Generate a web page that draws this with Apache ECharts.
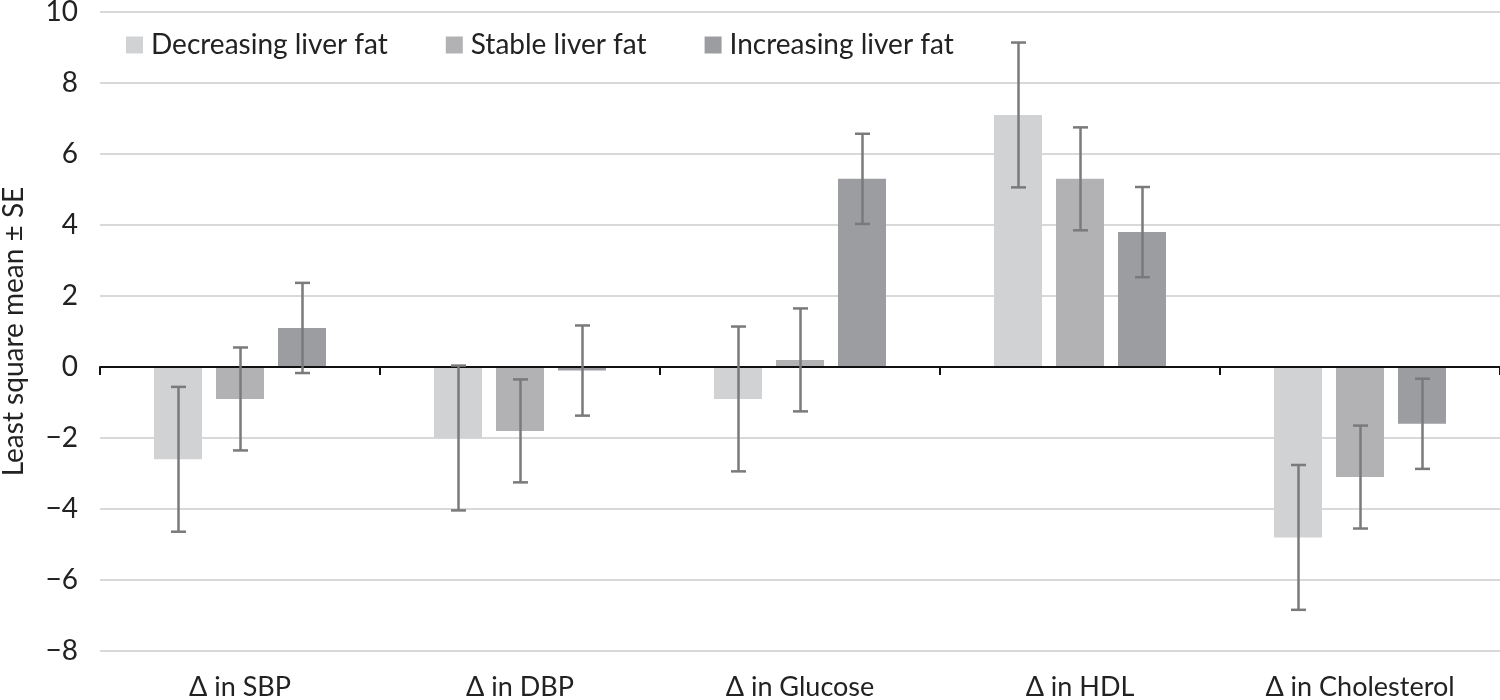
<!DOCTYPE html>
<html>
<head>
<meta charset="utf-8">
<script src="https://cdn.jsdelivr.net/npm/echarts@6/dist/echarts.min.js"></script>
<style>
html,body{margin:0;padding:0;background:#fff;}
#chart{width:1500px;height:700px;}
</style>
</head>
<body>
<div id="chart"></div>
<script>
const categories = ['\u0394 in SBP', '\u0394 in DBP', '\u0394 in Glucose', '\u0394 in HDL', '\u0394 in Cholesterol'];
const seriesNames = ['Decreasing liver fat', 'Stable liver fat', 'Increasing liver fat'];
const decreasing = [-2.6, -2.0, -0.9, 7.1, -4.8];
const decreasingSE = [2.04, 2.04, 2.04, 2.04, 2.04];
const stable = [-0.9, -1.8, 0.2, 5.3, -3.1];
const stableSE = [1.45, 1.45, 1.45, 1.45, 1.45];
const increasing = [1.1, -0.1, 5.3, 3.8, -1.6];
const increasingSE = [1.27, 1.27, 1.27, 1.27, 1.27];
const yTicks = [-8, -6, -4, -2, 0, 2, 4, 6, 8, 10];

const means = [decreasing, stable, increasing];
const ses = [decreasingSE, stableSE, increasingSE];
const colors = ['#d1d2d4', '#b2b2b4', '#9c9da0'];
const BAR_W = 48, BAR_GAP = 14;
const FONT = 'Lato, "Open Sans", "DejaVu Sans", sans-serif';

const chart = echarts.init(document.getElementById('chart'));

const barSeries = means.map((vals, i) => ({
  name: seriesNames[i],
  type: 'bar',
  xAxisIndex: 0,
  data: vals,
  barWidth: BAR_W,
  barGap: (BAR_GAP / BAR_W * 100) + '%',
  itemStyle: { color: colors[i] },
  emphasis: { disabled: true },
  z: 2
}));

const errSeries = means.map((vals, i) => ({
  type: 'custom',
  xAxisIndex: 0,
  data: vals.map((v, k) => [k, v - ses[i][k], v + ses[i][k]]),
  z: 5,
  silent: true,
  renderItem: function (params, api) {
    const k = api.value(0);
    const lo = api.coord([k, api.value(1)]);
    const hi = api.coord([k, api.value(2)]);
    const x = Math.round(lo[0] + (i - 1) * (BAR_W + BAR_GAP)) + 0.5;
    const cap = 7.5;
    const st = { stroke: '#7a7a7c', lineWidth: 2.5 };
    return {
      type: 'group',
      children: [
        { type: 'line', shape: { x1: x, y1: lo[1], x2: x, y2: hi[1] }, style: st },
        { type: 'line', shape: { x1: x - cap, y1: lo[1], x2: x + cap, y2: lo[1] }, style: st },
        { type: 'line', shape: { x1: x - cap, y1: hi[1], x2: x + cap, y2: hi[1] }, style: st }
      ]
    };
  }
}));

chart.setOption({
  animation: false,
  backgroundColor: '#ffffff',
  textStyle: { fontFamily: FONT },
  grid: { left: 100, right: 0, top: 12, bottom: 49, containLabel: false, outerBoundsMode: 'none' },
  legend: {
    data: seriesNames,
    left: 121,
    top: 26,
    icon: 'rect',
    itemWidth: 17,
    itemHeight: 17,
    itemGap: 58,
    textStyle: { fontSize: 28, color: '#222', fontFamily: FONT, padding: [0, 0, 0, 3] }
  },
  xAxis: [
    {
      type: 'category',
      data: categories,
      axisLine: { onZero: true, lineStyle: { color: '#111', width: 2 } },
      axisTick: { show: true, length: 8, lineStyle: { color: '#111', width: 2 } },
      axisLabel: { show: false },
      splitLine: { show: false },
      z: 3
    },
    {
      type: 'category',
      data: categories,
      position: 'bottom',
      axisLine: { show: false, onZero: false },
      axisTick: { show: false },
      axisLabel: { show: true, fontSize: 27, color: '#222', margin: 23, fontFamily: FONT },
      splitLine: { show: false }
    }
  ],
  yAxis: {
    type: 'value',
    min: yTicks[0],
    max: yTicks[yTicks.length - 1],
    interval: 2,
    name: 'Least square mean \u00b1 SE',
    nameLocation: 'middle',
    nameGap: 72,
    nameRotate: 90,
    nameTextStyle: { fontSize: 28, color: '#222', fontFamily: FONT },
    axisLine: { show: false },
    axisTick: { show: false },
    axisLabel: {
      fontSize: 28, color: '#222', margin: 22, fontFamily: FONT,
      formatter: v => String(v).replace('-', '\u2212')
    },
    splitLine: { lineStyle: { color: '#d9d9d9', width: 2 } }
  },
  series: barSeries.concat(errSeries)
});
</script>
</body>
</html>
